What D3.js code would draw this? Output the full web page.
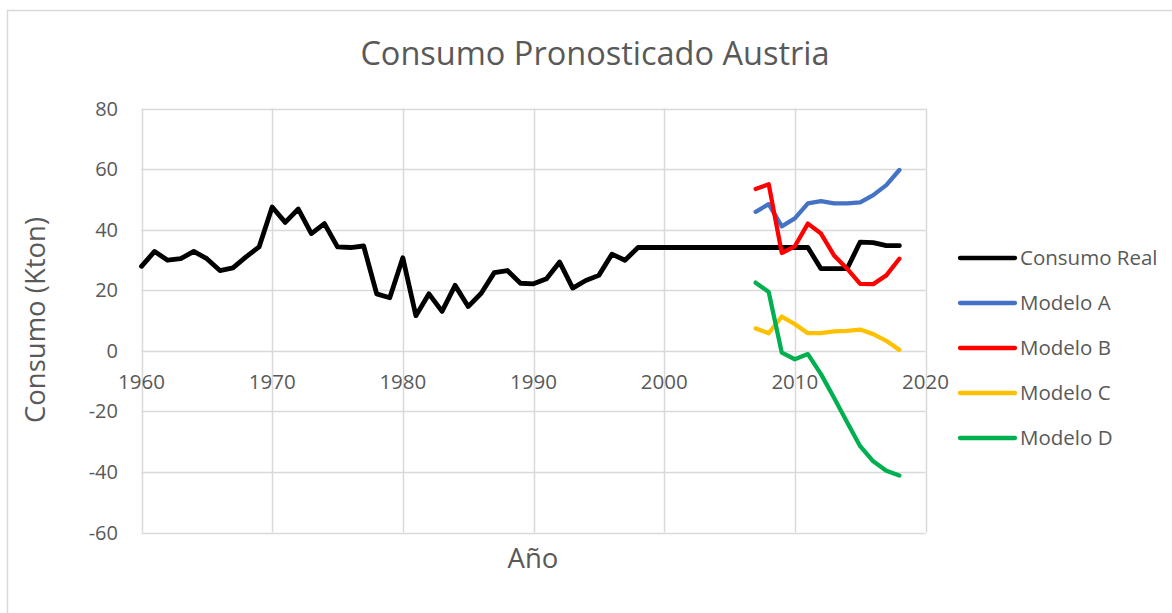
<!DOCTYPE html>
<html>
<head>
<meta charset="utf-8">
<script src="https://cdn.jsdelivr.net/npm/d3@7"></script>
<style>
  body { margin: 0; background: #fff; }
  svg { display: block; font-family: "Open Sans", sans-serif; }
</style>
</head>
<body>
<div id="chart"></div>
<script>
// Consumo Pronosticado Austria

const realYears = d3.range(1960, 2019);
const consumoReal = [
  27.9, 32.8, 29.9, 30.4, 32.8, 30.4, 26.5, 27.4, 31.0, 34.3,
  47.5, 42.4, 46.8, 38.7, 42.0, 34.3, 34.1, 34.6, 18.8, 17.5,
  30.7, 11.6, 18.8, 13.0, 21.6, 14.6, 19.0, 25.8, 26.5, 22.3,
  22.1, 23.8, 29.3, 20.7, 23.2, 24.9, 31.9, 29.9, 34.1, 34.1,
  34.1, 34.1, 34.1, 34.1, 34.1, 34.1, 34.1, 34.1, 34.1, 34.1,
  34.1, 34.1, 27.1, 27.1, 27.1, 35.9, 35.7, 34.7, 34.7
];

const modelYears = d3.range(2007, 2019);
const modeloA = [45.9, 48.4, 41.1, 43.7, 48.7, 49.4, 48.7, 48.7, 49.0, 51.4, 54.7, 59.7];
const modeloB = [53.4, 55.0, 32.3, 34.5, 42.0, 38.7, 31.5, 27.1, 22.1, 22.0, 24.9, 30.4];
const modeloC = [7.4, 5.8, 11.3, 8.8, 5.8, 5.8, 6.4, 6.6, 7.0, 5.5, 3.3, 0.3];
const modeloD = [22.5, 19.4, -0.6, -2.8, -1.1, -7.7, -15.5, -23.6, -31.5, -36.5, -39.6, -41.2];

const xTicks = [1960, 1970, 1980, 1990, 2000, 2010, 2020];
const yTicks = [80, 60, 40, 20, 0, -20, -40, -60];

const seriesNames = ['Consumo Real', 'Modelo A', 'Modelo B', 'Modelo C', 'Modelo D'];
const seriesColors = ['#000000', '#4472C4', '#FF0000', '#FFC000', '#00B050'];

const series = [
  { name: seriesNames[0], years: realYears, values: consumoReal },
  { name: seriesNames[1], years: modelYears, values: modeloA },
  { name: seriesNames[2], years: modelYears, values: modeloB },
  { name: seriesNames[3], years: modelYears, values: modeloC },
  { name: seriesNames[4], years: modelYears, values: modeloD }
];

const width = 1172, height = 613;
const plot = { left: 141.5, right: 925.5, top: 108.5, bottom: 532.5 };
const textColor = '#595959';
const gridColor = '#d9d9d9';

const svg = d3.select('#chart').append('svg')
  .attr('width', width)
  .attr('height', height);

// outer chart frame
svg.append('rect')
  .attr('x', 7.5).attr('y', 10.5)
  .attr('width', 1200).attr('height', 700)
  .attr('fill', '#fff')
  .attr('stroke', gridColor)
  .attr('stroke-width', 1.5);

const x = d3.scaleLinear().domain([1960, 2020]).range([plot.left, plot.right]);
const y = d3.scaleLinear().domain([-60, 80]).range([plot.bottom, plot.top]);

// gridlines
svg.append('g')
  .selectAll('line.h')
  .data(yTicks)
  .enter().append('line')
  .attr('x1', plot.left).attr('x2', plot.right)
  .attr('y1', d => Math.round(y(d)) + 0.5).attr('y2', d => Math.round(y(d)) + 0.5)
  .attr('stroke', gridColor).attr('stroke-width', 1.5);

svg.append('g')
  .selectAll('line.v')
  .data(xTicks)
  .enter().append('line')
  .attr('y1', plot.top).attr('y2', plot.bottom)
  .attr('x1', d => Math.round(x(d)) + 0.5).attr('x2', d => Math.round(x(d)) + 0.5)
  .attr('stroke', gridColor).attr('stroke-width', 1.5);

// y tick labels
svg.append('g')
  .selectAll('text')
  .data(yTicks)
  .enter().append('text')
  .attr('x', 118)
  .attr('y', d => y(d))
  .attr('dy', '0.35em')
  .attr('text-anchor', 'end')
  .attr('font-size', '20px')
  .attr('fill', textColor)
  .text(d => d);

// x tick labels, hung under the zero line
svg.append('g')
  .selectAll('text')
  .data(xTicks)
  .enter().append('text')
  .attr('x', d => x(d))
  .attr('y', y(0) + 31)
  .attr('dy', '0.35em')
  .attr('text-anchor', 'middle')
  .attr('font-size', '20.5px')
  .attr('fill', textColor)
  .text(d => d);

// lines
const line = d3.line()
  .x(d => x(d[0]))
  .y(d => y(d[1]));

svg.append('g')
  .selectAll('path')
  .data(series)
  .enter().append('path')
  .attr('d', s => line(s.years.map((yr, i) => [yr, s.values[i]])))
  .attr('fill', 'none')
  .attr('stroke', (s, i) => seriesColors[i])
  .attr('stroke-width', (s, i) => i === 0 ? 4.8 : 4.3)
  .attr('stroke-linejoin', 'round')
  .attr('stroke-linecap', 'round');

// title
svg.append('text')
  .attr('x', 595)
  .attr('y', 54)
  .attr('dy', '0.35em')
  .attr('text-anchor', 'middle')
  .attr('font-size', '32.5px')
  .attr('fill', textColor)
  .text('Consumo Pronosticado Austria');

// axis titles
svg.append('text')
  .attr('x', 533)
  .attr('y', 558)
  .attr('dy', '0.35em')
  .attr('text-anchor', 'middle')
  .attr('font-size', '27.5px')
  .attr('fill', textColor)
  .text('Año');

svg.append('text')
  .attr('transform', 'translate(35,320) rotate(-90)')
  .attr('dy', '0.35em')
  .attr('text-anchor', 'middle')
  .attr('font-size', '27.5px')
  .attr('fill', textColor)
  .text('Consumo (Kton)');

// legend
const legend = svg.append('g')
  .selectAll('g')
  .data(seriesNames)
  .enter().append('g')
  .attr('transform', (d, i) => `translate(960,${258 + i * 45})`);

legend.append('line')
  .attr('x1', 0).attr('x2', 55)
  .attr('stroke', (d, i) => seriesColors[i])
  .attr('stroke-width', 4.3)
  .attr('stroke-linecap', 'round');

legend.append('text')
  .attr('x', 60)
  .attr('dy', '0.35em')
  .attr('font-size', '20.5px')
  .attr('fill', textColor)
  .text(d => d);
</script>
</body>
</html>
